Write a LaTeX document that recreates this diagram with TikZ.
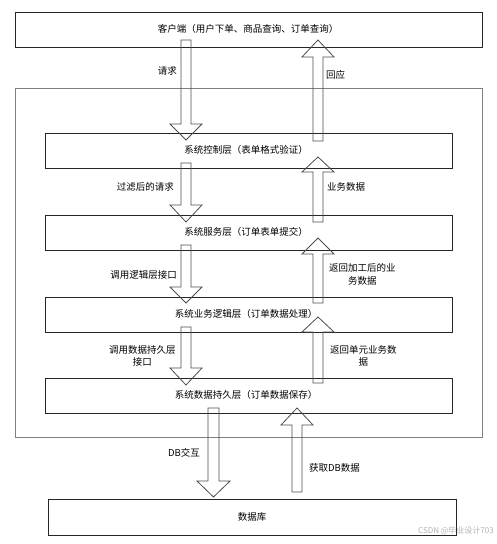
\documentclass[tikz,border=0pt]{standalone}
\usepackage{fontspec}
\setmainfont{Noto Sans CJK SC}
\begin{document}
\begin{tikzpicture}[x=1pt,y=-1pt,
  boxline/.style={draw=black!85,line width=0.8pt},
  outerline/.style={draw=black!50,line width=1pt},
  arrowline/.style={draw=black!70,line width=0.8pt},
  lbl/.style={font=\fontsize{9.5}{12.5}\selectfont,inner sep=0pt,align=center},
  boxtext/.style={font=\fontsize{9.5}{12}\selectfont,inner sep=0pt}]
\useasboundingbox (0,0) rectangle (497,544);
\newcommand\barrow[6]{%
  \draw[arrowline] (#1-#5,#2) -- (#1+#5,#2) -- (#1+#5,#3) -- (#1+#6,#3) -- (#1,#4) -- (#1-#6,#3) -- (#1-#5,#3) -- cycle;}
% boxes
\draw[boxline] (15,12) rectangle (482,47);
\node[boxtext] (client) at (248,29) {客户端（用户下单、商品查询、订单查询）};
\draw[outerline] (15,88) rectangle (482,437);
\coordinate (container) at (248,262);
\draw[boxline] (45,133) rectangle (452,168);
\node[boxtext] (ctrl) at (246,150) {系统控制层（表单格式验证）};
\draw[boxline] (45,215) rectangle (452,250);
\node[boxtext] (svc) at (246,232) {系统服务层（订单表单提交）};
\draw[boxline] (45,297) rectangle (452,332);
\node[boxtext] (logic) at (246,314) {系统业务逻辑层（订单数据处理）};
\draw[boxline] (45,378) rectangle (452,413);
\node[boxtext] (persist) at (246,395) {系统数据持久层（订单数据保存）};
\draw[boxline] (48,499) rectangle (456,535);
\node[boxtext] (db) at (252,517) {数据库};
% arrows
\barrow{186}{40}{124}{140}{5}{16}
\barrow{318}{141}{57}{40}{5}{16}
\barrow{186}{163}{205}{222}{5}{16}
\barrow{318}{222}{172}{157}{5}{16}
\barrow{186}{245}{287}{303}{5}{16}
\barrow{318}{303}{254}{238}{5}{16}
\barrow{186}{327}{368}{385}{5}{16}
\barrow{318}{383}{332}{317}{5}{16}
\barrow{213.5}{408}{481}{497}{5.5}{16.5}
\barrow{297}{492}{425}{408}{5}{16}
% labels
\node[lbl,anchor=east] (l1) at (177,71) {请求};
\node[lbl,anchor=west] (l2) at (326,75) {回应};
\node[lbl,anchor=east] (l3) at (174,187) {过滤后的请求};
\node[lbl,anchor=west] (l4) at (327,187) {业务数据};
\node[lbl,anchor=east] (l5) at (177,275) {调用逻辑层接口};
\node[lbl,anchor=west] (l6) at (329,274.5) {返回加工后的业\\务数据};
\node[lbl,anchor=west] (l7) at (109,356) {调用数据持久层\\接口};
\node[lbl,anchor=west] (l8) at (330,356) {返回单元业务数\\据};
\node[lbl,anchor=west] (l9) at (168,453) {DB交互};
\node[lbl,anchor=west] (l10) at (309,468) {获取DB数据};
\node[anchor=east,inner sep=0pt,text=black!30,font=\fontsize{8}{9}\selectfont] (wm) at (494,531) {CSDN @毕业设计703};
\end{tikzpicture}
\end{document}
